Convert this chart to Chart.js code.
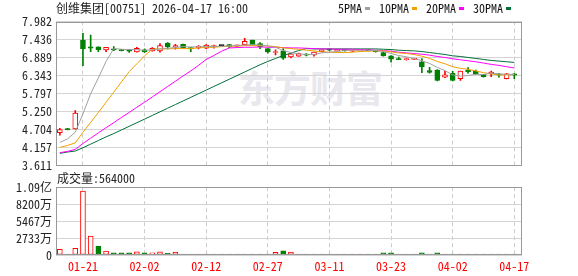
<!DOCTYPE html>
<html>
<head>
<meta charset="utf-8">
<script src="https://cdn.jsdelivr.net/npm/chart.js@4.4.0/dist/chart.umd.min.js"></script>
<style>
html, body { margin: 0; padding: 0; background: #fff; }
#wrap { position: relative; width: 578px; height: 276px; overflow: hidden; font-family: "Noto Sans Mono CJK SC", "Noto Sans CJK SC", monospace; }
#title { position: absolute; left: 56px; top: 1px; font-size: 12px; line-height: 14px; color: #222; white-space: nowrap; }
#legend { position: absolute; left: 338px; top: 1px; display: flex; align-items: center; font-size: 12px; line-height: 14px; color: #111; white-space: nowrap; }
#legend .dash { display: inline-block; width: 5px; height: 3px; margin: 0 9px 0 3px; }
#volLabel { position: absolute; left: 57px; top: 171px; font-size: 12px; line-height: 14px; color: #222; white-space: nowrap; }
#mark { position: absolute; left: 238px; top: 67px; font-family: "Noto Sans CJK SC", sans-serif; font-size: 37px; line-height: 40px; font-weight: bold; color: #e8e8ee; letter-spacing: -1px; }
canvas { position: absolute; left: 0; }
#priceChart { top: 0; }
#volChart { top: 176px; }
</style>
</head>
<body>
<div id="wrap">
  <div id="mark">东方财富</div>
  <canvas id="priceChart" width="578" height="180"></canvas>
  <canvas id="volChart" width="578" height="100"></canvas>
  <div id="title">创维集团[00751] 2026-04-17 16:00</div>
  <div id="legend"></div>
  <div id="volLabel">成交量:564000</div>
</div>
<script>
const dates = ['01-16','01-19','01-20','01-21','01-22','01-23','01-26','01-27','01-28','01-29',
  '01-30','02-02','02-03','02-04','02-05','02-06','02-09','02-10','02-11','02-12',
  '02-13','02-16','02-20','02-23','02-24','02-25','02-26','02-27','03-02','03-03',
  '03-04','03-05','03-06','03-09','03-10','03-11','03-12','03-13','03-16','03-17',
  '03-18','03-19','03-20','03-23','03-24','03-25','03-26','03-27','03-30','03-31',
  '04-01','04-02','04-08','04-09','04-10','04-13','04-14','04-15','04-16','04-17'];

const open = [4.61,4.73,4.72,7.42,7.21,7.21,7.12,7.15,7.13,7.11,
  7.06,7.12,7.09,7.09,7.33,7.21,7.29,7.19,7.19,7.17,
  7.22,7.25,7.28,7.24,7.28,7.42,7.31,7.16,7.04,7.09,
  6.91,6.93,6.99,6.97,7.07,7.14,7.10,7.12,7.08,7.09,
  7.13,7.10,7.04,6.94,6.86,6.82,6.83,6.76,6.49,6.51,
  6.29,6.41,6.25,6.51,6.48,6.38,6.39,6.39,6.25,6.39];
const high = [4.74,4.74,5.28,7.62,7.57,7.21,7.20,7.22,7.14,7.14,
  7.20,7.15,7.19,7.31,7.34,7.29,7.30,7.19,7.25,7.28,
  7.27,7.25,7.29,7.27,7.47,7.42,7.34,7.16,7.12,7.16,
  7.00,7.02,7.01,7.05,7.12,7.15,7.14,7.13,7.12,7.13,
  7.14,7.11,7.06,6.95,6.90,6.87,6.86,6.86,6.59,6.52,
  6.47,6.47,6.48,6.58,6.51,6.38,6.48,6.40,6.41,6.40];
const low = [4.53,4.69,4.71,6.64,7.07,7.07,7.07,7.10,7.09,7.04,
  7.05,7.04,7.08,7.05,7.15,7.14,7.17,7.07,7.15,7.16,
  7.17,7.25,7.19,7.22,7.27,7.27,7.16,7.02,6.97,6.83,
  6.88,6.92,6.94,6.93,7.06,7.10,7.09,7.08,7.07,7.08,
  7.09,7.05,6.93,6.75,6.82,6.81,6.82,6.43,6.41,6.18,
  6.28,6.18,6.19,6.41,6.38,6.29,6.31,6.29,6.24,6.25];
const close = [4.70,4.70,5.20,7.16,7.17,7.13,7.20,7.12,7.10,7.08,
  7.17,7.06,7.17,7.25,7.22,7.25,7.19,7.15,7.23,7.27,
  7.25,7.25,7.22,7.26,7.38,7.27,7.21,7.06,7.07,6.87,
  7.00,7.01,6.96,7.05,7.12,7.11,7.13,7.10,7.11,7.12,
  7.10,7.07,6.94,6.84,6.82,6.86,6.85,6.60,6.44,6.19,
  6.36,6.19,6.48,6.46,6.39,6.31,6.45,6.36,6.39,6.35];

// volume in 万股
const volume = [900,160,1080,10290,3055,1450,640,370,370,370,
  530,370,370,530,270,480,160,160,160,160,
  160,160,160,160,160,160,160,160,430,690,
  480,160,160,160,160,160,160,160,160,160,
  160,160,330,330,160,160,160,330,160,330,
  160,160,160,160,160,160,160,160,160,56.4];

const ma5 = [4.31,4.42,4.62,5.18,5.79,6.27,6.77,7.16,7.14,7.13,
  7.13,7.11,7.12,7.15,7.17,7.19,7.22,7.21,7.21,7.22,
  7.22,7.23,7.24,7.25,7.27,7.28,7.27,7.24,7.20,7.10,
  7.04,7.00,6.98,6.98,7.03,7.05,7.07,7.10,7.11,7.11,
  7.11,7.10,7.07,7.01,6.95,6.91,6.86,6.79,6.71,6.59,
  6.49,6.36,6.33,6.34,6.38,6.37,6.42,6.39,6.38,6.37];
const ma10 = [4.16,4.22,4.30,4.62,4.92,5.22,5.53,5.84,6.15,6.46,
  6.70,6.94,7.14,7.15,7.15,7.16,7.16,7.16,7.18,7.20,
  7.20,7.22,7.23,7.23,7.25,7.25,7.25,7.24,7.22,7.18,
  7.16,7.14,7.11,7.09,7.06,7.05,7.04,7.04,7.05,7.07,
  7.08,7.09,7.09,7.06,7.03,7.01,6.98,6.93,6.86,6.77,
  6.70,6.61,6.56,6.53,6.48,6.43,6.39,6.36,6.36,6.37];
const ma20 = [4.00,4.04,4.10,4.28,4.44,4.60,4.76,4.91,5.07,5.22,
  5.38,5.53,5.69,5.85,6.01,6.17,6.33,6.48,6.65,6.83,
  6.95,7.08,7.18,7.19,7.20,7.20,7.21,7.20,7.20,7.19,
  7.18,7.18,7.17,7.16,7.15,7.15,7.14,7.14,7.14,7.13,
  7.12,7.11,7.10,7.08,7.05,7.03,7.01,6.99,6.96,6.92,
  6.89,6.85,6.82,6.79,6.76,6.72,6.68,6.65,6.61,6.57];
const ma30 = [3.98,4.02,4.05,4.15,4.26,4.37,4.48,4.58,4.69,4.80,
  4.91,5.02,5.13,5.24,5.35,5.46,5.57,5.68,5.79,5.90,
  6.01,6.12,6.23,6.34,6.45,6.56,6.67,6.77,6.86,6.95,
  7.02,7.10,7.16,7.15,7.15,7.15,7.15,7.15,7.15,7.15,
  7.15,7.15,7.14,7.13,7.11,7.10,7.09,7.07,7.04,7.01,
  6.98,6.94,6.92,6.89,6.86,6.83,6.80,6.78,6.76,6.74];

const maNames = ['5PMA','10PMA','20PMA','30PMA'];
const maColors = ['#a0a0a0','#f0a000','#ff00ff','#006f3a'];
const maSeries = [ma5, ma10, ma20, ma30];

const priceTicks = [3.611,4.157,4.704,5.250,5.797,6.343,6.889,7.436,7.982];
const volTicks = [0,2733.33,5466.67,8200,10933.33];
const volTickLabels = ['0','2733万','5467万','8200万','1.09亿'];
const xTickLabels = ['01-21','02-02','02-12','02-27','03-11','03-23','04-02','04-17'];

const RED = '#ff0000', GREEN = '#008000';
const tickFont = { family: '"Noto Sans Mono CJK SC", "Noto Sans CJK SC", monospace', size: 12 };

// legend
const legendEl = document.getElementById('legend');
maNames.forEach((n, i) => {
  legendEl.insertAdjacentHTML('beforeend', `<span>${n}</span><span class="dash" style="background:${maColors[i]}"></span>`);
});

const candleColor = dates.map((_, i) => close[i] > open[i] ? RED : (close[i] < open[i] ? GREEN : '#000'));
const bodyFill = dates.map((_, i) => close[i] > open[i] ? '#fff' : candleColor[i]);
const volUp = dates.map((_, i) => i === 0 || close[i] >= close[i - 1]);

// plot frame
const framePlugin = {
  id: 'frame',
  afterDraw(chart) {
    const a = chart.chartArea, ctx = chart.ctx;
    ctx.save();
    ctx.strokeStyle = '#999';
    ctx.lineWidth = 1;
    ctx.strokeRect(Math.round(a.left) + 0.5, Math.round(a.top) + 0.5, Math.round(a.right - a.left) - 1, Math.round(a.bottom - a.top) - 1);
    ctx.restore();
  }
};

function xAxis(showLabels) {
  return {
    type: 'linear', min: -0.5, max: 60, offset: false,
    afterBuildTicks: s => { s.ticks = xTickLabels.map(d => ({ value: dates.indexOf(d) })); },
    grid: { color: '#cccccc', drawTicks: false, offset: false },
    border: { display: false, dash: [4, 3] },
    ticks: {
      display: showLabels, autoSkip: false, maxRotation: 0, padding: 4,
      color: RED, font: tickFont,
      callback: v => dates[v]
    }
  };
}

new Chart(document.getElementById('priceChart'), {
  type: 'bar',
  data: {
    datasets: [
      {
        data: dates.map((_, i) => ({ x: i, y: [low[i], high[i]] })),
        backgroundColor: candleColor, barThickness: 1, grouped: false, order: 3
      },
      {
        data: dates.map((_, i) => ({ x: i, y: [open[i], close[i]] })),
        backgroundColor: bodyFill, borderColor: candleColor, borderWidth: 1,
        borderSkipped: false, barThickness: 5, minBarLength: 1, grouped: false, order: 2
      },
      ...maSeries.map((s, k) => ({
        type: 'line',
        data: s.map((v, i) => ({ x: i, y: v })),
        borderColor: maColors[k], borderWidth: 1, pointRadius: 0, tension: 0, order: 1
      }))
    ]
  },
  options: {
    responsive: false, animation: false,
    layout: { padding: { top: 21.5, right: 56, bottom: 14.5, left: 0 } },
    plugins: { legend: { display: false }, tooltip: { enabled: false } },
    scales: {
      x: Object.assign(xAxis(false), { afterFit: s => { s.height = 0; } }),
      y: {
        min: 3.611, max: 7.982,
        afterBuildTicks: s => { s.ticks = priceTicks.map(v => ({ value: v })); },
        afterFit: s => { s.width = 56; },
        grid: { color: '#d4d4d4', drawTicks: false },
        border: { display: false },
        ticks: { autoSkip: false, padding: 4, color: '#222', font: tickFont, callback: v => v.toFixed(3) }
      }
    }
  },
  plugins: [framePlugin]
});

new Chart(document.getElementById('volChart'), {
  type: 'bar',
  data: {
    datasets: [{
      data: volume.map((v, i) => ({ x: i, y: v })),
      backgroundColor: volUp.map(u => u ? '#fff' : GREEN),
      borderColor: volUp.map(u => u ? RED : GREEN),
      borderWidth: 1, borderSkipped: false, barThickness: 5, minBarLength: 1, grouped: false
    }]
  },
  options: {
    responsive: false, animation: false,
    layout: { padding: { top: 11, right: 56, bottom: 0, left: 0 } },
    plugins: { legend: { display: false }, tooltip: { enabled: false } },
    scales: {
      x: Object.assign(xAxis(true), { afterFit: s => { s.height = 21; } }),
      y: {
        min: 0, max: 10933.33,
        afterBuildTicks: s => { s.ticks = volTicks.map(v => ({ value: v })); },
        afterFit: s => { s.width = 56; },
        grid: { color: '#d4d4d4', drawTicks: false },
        border: { display: false },
        ticks: { autoSkip: false, padding: 4, color: '#222', font: tickFont, callback: (v, i) => volTickLabels[i] }
      }
    }
  },
  plugins: [framePlugin]
});
</script>
</body>
</html>
